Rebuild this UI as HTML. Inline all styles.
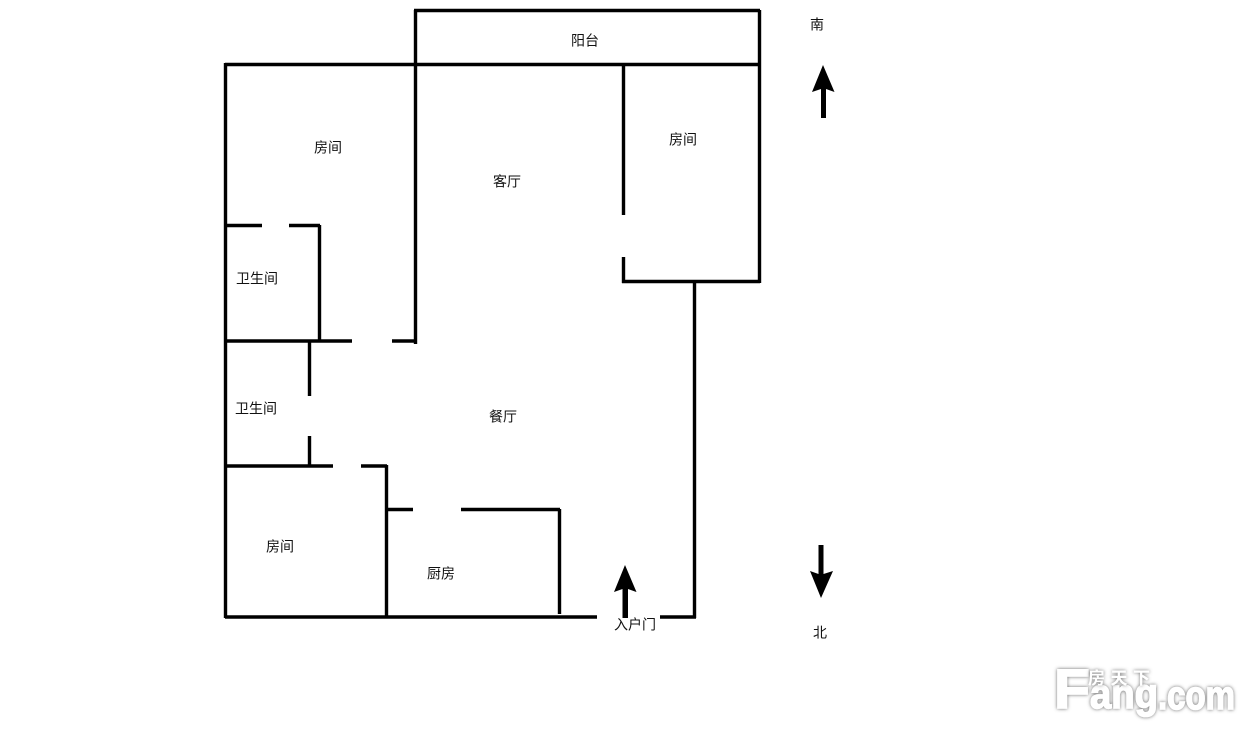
<!DOCTYPE html>
<html>
<head>
<meta charset="utf-8">
<style>
html,body{margin:0;padding:0;background:#fff;width:1251px;height:736px;overflow:hidden}
svg{display:block}
.t{font-family:"Liberation Sans","WenQuanYi Zen Hei","Noto Sans CJK SC",sans-serif;font-size:14px;fill:#111}
.w{stroke:#000;stroke-width:3.4;fill:none;stroke-linecap:butt}
.logo{font-family:"Liberation Sans",sans-serif;font-weight:bold;fill:#fff;stroke:#fff;stroke-width:1.5;filter:url(#s)}
</style>
</head>
<body>
<svg width="1251" height="736" viewBox="0 0 1251 736" xmlns="http://www.w3.org/2000/svg">
<defs>
<filter id="s" x="-20%" y="-30%" width="140%" height="160%">
<feDropShadow dx="0" dy="0" stdDeviation="1.8" flood-color="#666" flood-opacity="1"/>
</filter>
</defs>
<rect width="1251" height="736" fill="#fff"/>
<g class="w">
<path d="M414 10.5H760"/>
<path d="M225 64.5H760"/>
<path d="M225.5 63V618"/>
<path d="M415.5 10V344"/>
<path d="M623.5 64V215"/>
<path d="M623.5 257V283"/>
<path d="M622 281.5H760"/>
<path d="M759.5 10V283"/>
<path d="M694.5 281V618"/>
<path d="M225 617H597"/>
<path d="M660 617H696"/>
<path d="M225 225.5H262"/>
<path d="M289 225.5H320"/>
<path d="M319.500 225V342"/>
<path d="M225 341H352"/>
<path d="M392 341H415"/>
<path d="M309.500 341V396"/>
<path d="M309.500 436V466"/>
<path d="M225 466H333"/>
<path d="M361 466H387"/>
<path d="M386.500 465V617"/>
<path d="M387 509.500H413"/>
<path d="M461 509.500H560"/>
<path d="M559.500 509V614"/>
</g>
<g fill="#000">
<path d="M823 65L834.500 92L826 89V118H821V89L812 92Z"/>
<path d="M821 598L810 571L818.500 574V545H823.500V574L833 571Z"/>
<path d="M625 565L636.500 592L628 589V618H622.500V589L614 592Z"/>
</g>
<g class="t" text-anchor="middle">
<text x="585" y="45.500">阳台</text>
<text x="817" y="29.500">南</text>
<text x="328" y="152.500">房间</text>
<text x="683" y="144.500">房间</text>
<text x="507" y="186.500">客厅</text>
<text x="257" y="283.500">卫生间</text>
<text x="256" y="413.500">卫生间</text>
<text x="503" y="421.500">餐厅</text>
<text x="280" y="551.500">房间</text>
<text x="441" y="578.500">厨房</text>
<text x="635" y="629.500">入户门</text>
<text x="820" y="637.500">北</text>
</g>
<text class="logo" x="1054" y="708" font-size="56" textLength="36" lengthAdjust="spacingAndGlyphs">F</text>
<text class="logo" x="1090" y="708" font-size="42" textLength="68" lengthAdjust="spacingAndGlyphs">ang</text>
<text class="logo" x="1158" y="709" font-size="40" textLength="77" lengthAdjust="spacingAndGlyphs">.com</text>
<text x="1088" y="684" font-size="17" fill="#fff" filter="url(#s)" style="font-family:'Liberation Sans','Noto Sans CJK SC',sans-serif;font-weight:bold" textLength="62" lengthAdjust="spacing">房天下</text>
</svg>
</body>
</html>
